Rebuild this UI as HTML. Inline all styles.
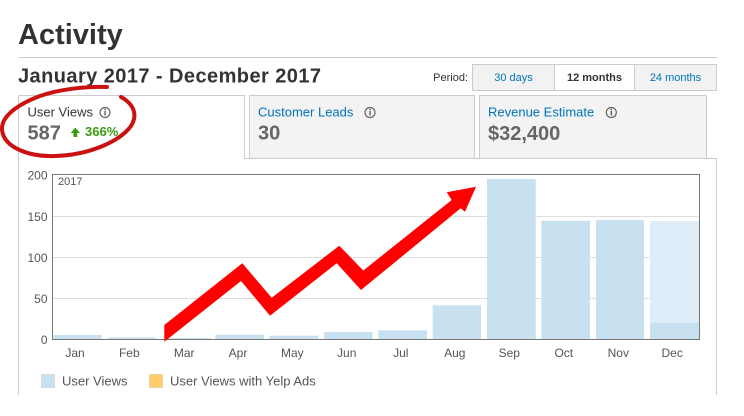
<!DOCTYPE html>
<html><head><meta charset="utf-8">
<style>
html,body{margin:0;padding:0;background:#fff;width:744px;height:416px;overflow:hidden}
svg{display:block}
text{font-family:"Liberation Sans",Arial,sans-serif}
</style></head>
<body>
<svg width="744" height="416" viewBox="0 0 744 416" xmlns="http://www.w3.org/2000/svg">
<rect width="744" height="416" fill="#fff"/>
<!-- Header -->
<text x="18" y="44" font-size="29" font-weight="bold" fill="#333">Activity</text>
<line x1="18" y1="57.5" x2="717" y2="57.5" stroke="#ccc" stroke-width="1"/>
<text x="18" y="82.7" font-size="20" font-weight="bold" fill="#333" textLength="303" lengthAdjust="spacing">January 2017 - December 2017</text>

<!-- Period -->
<text x="468" y="81" font-size="11" fill="#333" text-anchor="end">Period:</text>
<rect x="472.5" y="64.5" width="244" height="26" fill="#f2f2f2" stroke="#ccc"/>
<rect x="554.5" y="64.5" width="80" height="26" fill="#fff" stroke="#ccc"/>
<text x="513.5" y="81" font-size="11" fill="#0073bb" text-anchor="middle">30 days</text>
<text x="594.5" y="81" font-size="11" font-weight="bold" fill="#333" text-anchor="middle">12 months</text>
<text x="675.5" y="81" font-size="11" fill="#0073bb" text-anchor="middle">24 months</text>

<!-- Tabs -->
<rect x="249.5" y="95.5" width="225" height="63" fill="#f3f3f3" stroke="#ccc"/>
<rect x="479.5" y="95.5" width="227" height="63" fill="#f3f3f3" stroke="#ccc"/>
<path d="M18.5 395 V95.5 H244.5 V158.5 H716.5 V395" fill="none" stroke="#ccc"/>

<text x="27.5" y="116.7" font-size="13" fill="#333">User Views</text>
<circle cx="105" cy="112.5" r="5" fill="none" stroke="#666" stroke-width="1.2"/>
<rect x="104.3" y="111" width="1.5" height="4.5" fill="#666"/><rect x="104.3" y="108.8" width="1.5" height="1.4" fill="#666"/>
<text x="27.5" y="139.5" font-size="20" font-weight="bold" fill="#666">587</text>
<polygon points="70.7,133 75.3,127.6 80,133 77.2,133 77.2,137 73.5,137 73.5,133" fill="#3a9a10"/>
<text x="85" y="136" font-size="13" font-weight="bold" fill="#3a9a10">366%</text>

<text x="258" y="116.7" font-size="13" fill="#0073bb">Customer Leads</text>
<circle cx="370" cy="112.5" r="5" fill="none" stroke="#666" stroke-width="1.2"/>
<rect x="369.3" y="111" width="1.5" height="4.5" fill="#666"/><rect x="369.3" y="108.8" width="1.5" height="1.4" fill="#666"/>
<text x="258" y="139.5" font-size="20" font-weight="bold" fill="#666">30</text>

<text x="488" y="116.7" font-size="13" fill="#0073bb">Revenue Estimate</text>
<circle cx="611.3" cy="112.5" r="5" fill="none" stroke="#666" stroke-width="1.2"/>
<rect x="610.6" y="111" width="1.5" height="4.5" fill="#666"/><rect x="610.6" y="108.8" width="1.5" height="1.4" fill="#666"/>
<text x="488" y="140" font-size="20" font-weight="bold" fill="#666">$32,400</text>

<!-- Chart grid -->
<g stroke="#ddd" stroke-width="1">
<line x1="53" y1="216.5" x2="699" y2="216.5"/>
<line x1="53" y1="257.5" x2="699" y2="257.5"/>
<line x1="53" y1="298.5" x2="699" y2="298.5"/>
</g>
<!-- Bars -->
<g fill="#c8e1f0">
<rect x="53.3" y="335" width="48.4" height="4.5"/>
<rect x="107.7" y="337.3" width="48" height="2.2"/>
<rect x="166.7" y="338" width="44" height="1.5"/>
<rect x="215.3" y="334.7" width="48.7" height="4.8"/>
<rect x="269.3" y="335.7" width="49" height="3.8"/>
<rect x="324" y="332" width="48.7" height="7.5"/>
<rect x="378.3" y="330.3" width="48.7" height="9.2"/>
<rect x="432.7" y="305.3" width="48.3" height="34.2"/>
<rect x="487" y="179" width="48.7" height="160.5"/>
<rect x="541.3" y="220.7" width="48.7" height="118.8"/>
<rect x="596" y="220" width="48" height="119.5"/>
</g>
<rect x="650" y="221" width="49" height="118.5" fill="#deedf7"/>
<rect x="650" y="322.7" width="49" height="16.8" fill="#c8e1f0"/>
<!-- Axes box -->
<rect x="52.5" y="174.5" width="647" height="165" fill="none" stroke="#777" stroke-width="1"/>
<text x="58" y="185" font-size="11" fill="#555">2017</text>

<g font-size="12" fill="#555" text-anchor="end">
<text x="47.5" y="179.5">200</text>
<text x="47.5" y="221">150</text>
<text x="47.5" y="262">100</text>
<text x="47.5" y="303">50</text>
<text x="47.5" y="344">0</text>
</g>
<g font-size="12" fill="#555" text-anchor="middle">
<text x="75" y="357">Jan</text>
<text x="129.3" y="357">Feb</text>
<text x="184.2" y="357">Mar</text>
<text x="238" y="357">Apr</text>
<text x="292.3" y="357">May</text>
<text x="346.7" y="357">Jun</text>
<text x="400.8" y="357">Jul</text>
<text x="454.8" y="357">Aug</text>
<text x="509.3" y="357">Sep</text>
<text x="563.8" y="357">Oct</text>
<text x="618.3" y="357">Nov</text>
<text x="672.2" y="357">Dec</text>
</g>

<!-- Legend -->
<rect x="41.5" y="374.5" width="13" height="13" fill="#c8e1f0" stroke="#d5dde3"/>
<text x="62" y="385.5" font-size="13" fill="#555">User Views</text>
<rect x="149.5" y="374.5" width="13" height="13" fill="#ffcc66" stroke="#e6d3b0"/>
<text x="170" y="385.5" font-size="13" fill="#555">User Views with Yelp Ads</text>

<!-- Red arrow -->
<polygon fill="#ff0000" points="164.3,325 242.3,263.3 271.7,297.7 339.3,245.7 363.3,270.5 451.7,200 446.7,192.3 476,186.7 465,211.7 460.7,208.3 361,290 336.7,263.3 270,315.7 241,281 164.3,341.7"/>

<!-- Red ellipse annotation -->
<path d="M107,87 C85,86.5 60,89 40,96 C16,105 1,117 2,130 C4,148 30,157 55,156 C90,155 120,141 131,126 C138,115 134,104 121,97" fill="none" stroke="#cc1111" stroke-width="4" stroke-linecap="round"/>
</svg>
</body></html>
